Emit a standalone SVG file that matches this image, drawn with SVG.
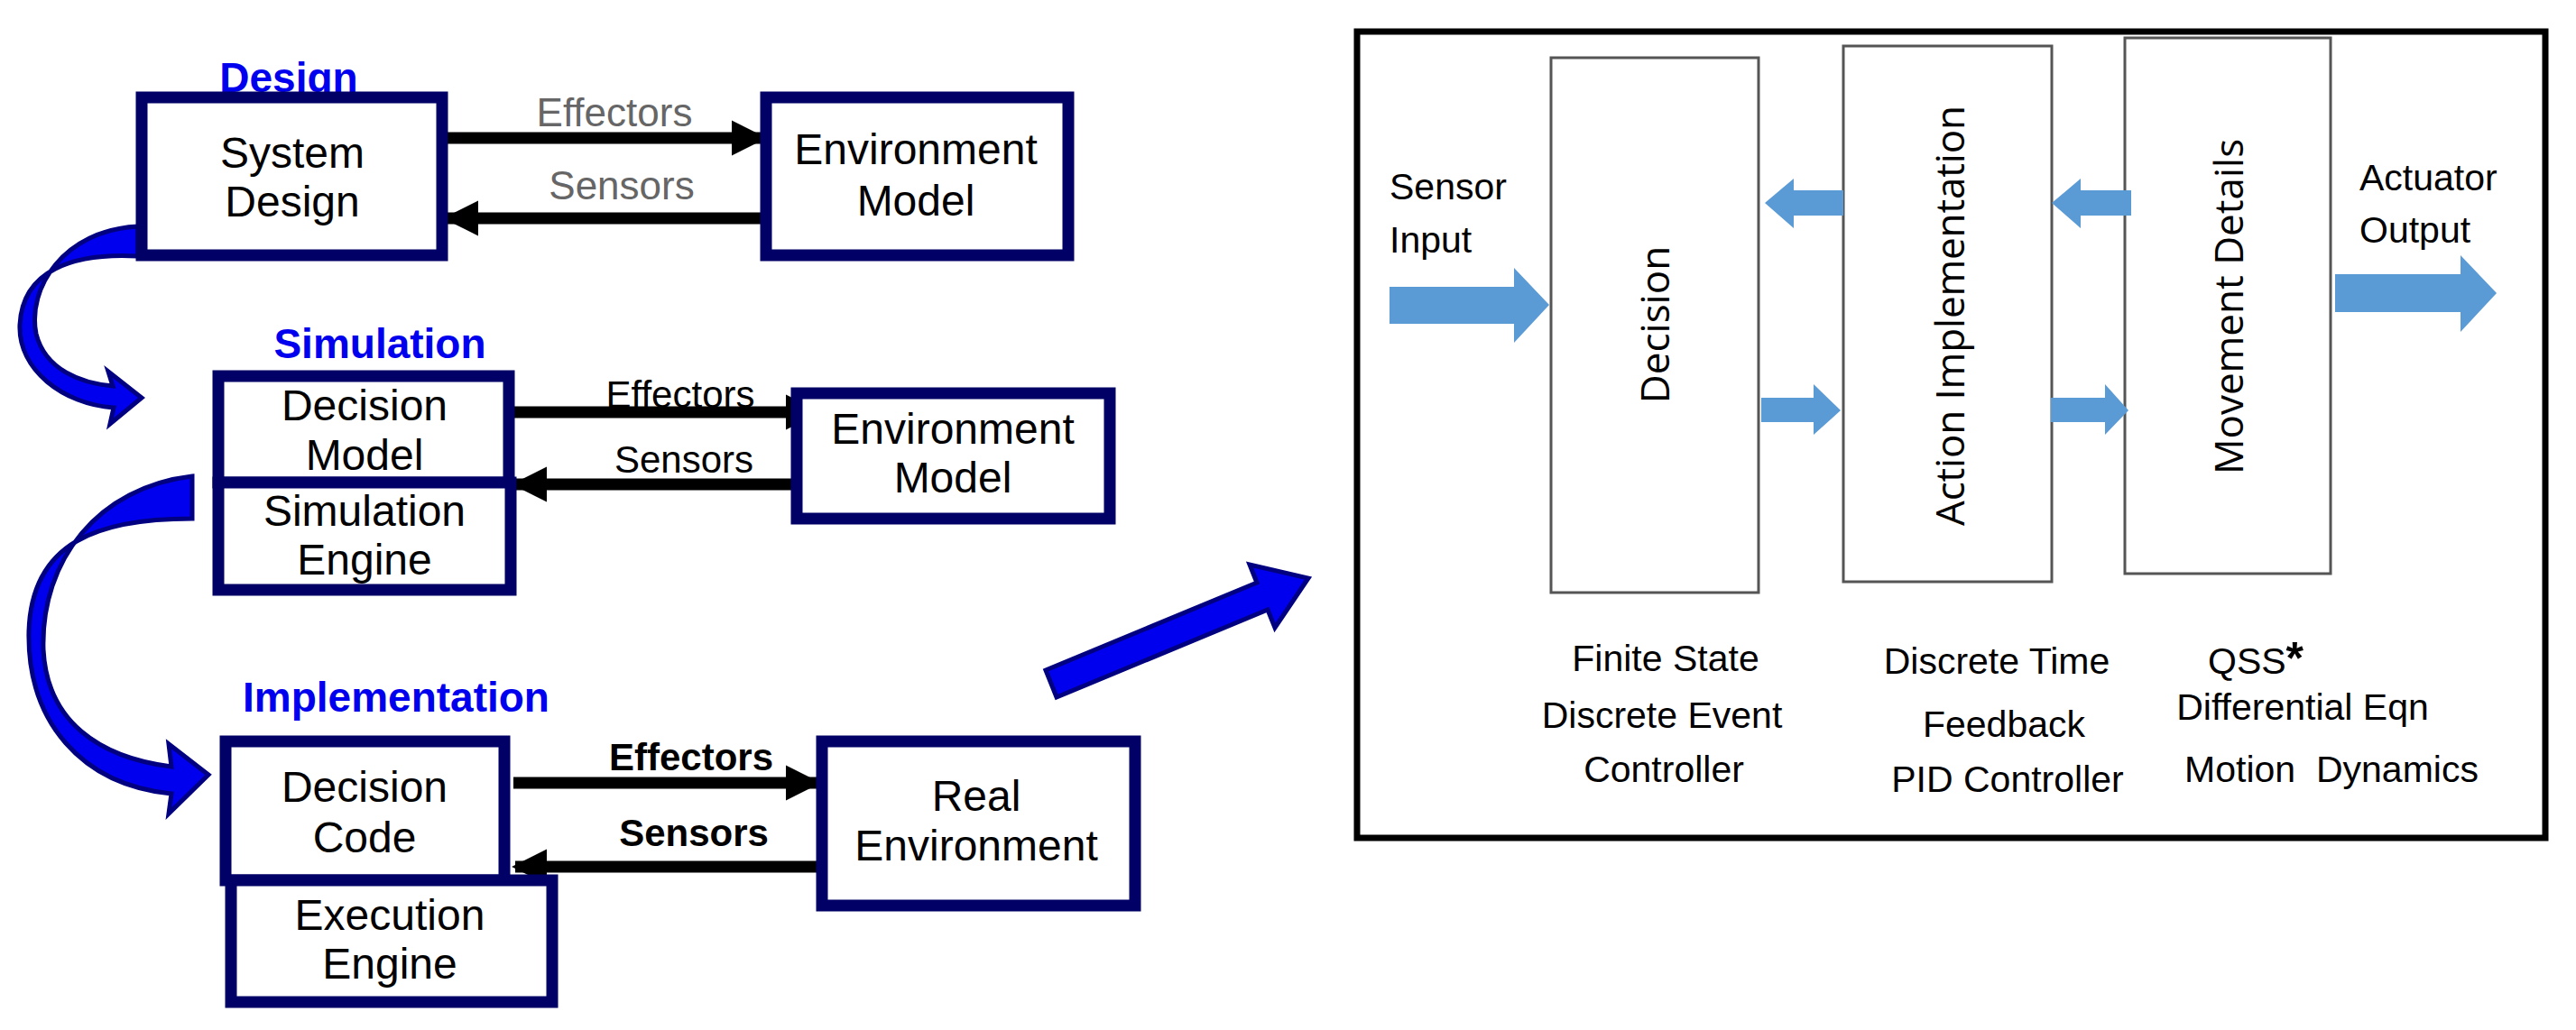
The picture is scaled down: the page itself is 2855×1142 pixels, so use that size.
<svg xmlns="http://www.w3.org/2000/svg" width="2855" height="1142" viewBox="0 0 2855 1142">
<style>
.nb{fill:#fff;stroke:#000066;stroke-width:13}
.t{font-family:"Liberation Sans",Arial,sans-serif;font-size:48px;fill:#000;text-anchor:middle}
.h{font-family:"Liberation Sans",Arial,sans-serif;font-size:46px;font-weight:bold;fill:#0000ee;text-anchor:middle}
.g{font-family:"Liberation Sans",Arial,sans-serif;font-size:44px;fill:#666;text-anchor:middle}
.k{font-family:"Liberation Sans",Arial,sans-serif;font-size:42px;fill:#000;text-anchor:middle}
.r{font-family:"Liberation Sans",Arial,sans-serif;font-size:41px;fill:#000;text-anchor:middle}
.s{font-family:"Liberation Sans",Arial,sans-serif;font-size:41px;fill:#000;text-anchor:start}
.v{font-family:"Open Sans","DejaVu Sans",sans-serif;font-size:44px;fill:#000;text-anchor:middle}
.ln{stroke:#000;stroke-width:13;fill:none}
.bx{fill:#fff;stroke:#555;stroke-width:3}
.ba{fill:#5B9BD5}
.cv{fill:#0000ee;stroke:#000080;stroke-width:5}
</style>
<defs>
<marker id="ah" viewBox="0 0 10 10" refX="9" refY="5" markerWidth="3" markerHeight="3.5" orient="auto" markerUnits="strokeWidth"><path d="M0,0L10,5L0,10z" fill="#000"/></marker>
</defs>
<rect width="2855" height="1142" fill="#fff"/>
<text class="h" x="320" y="102">Design</text>
<text class="h" x="421" y="397">Simulation</text>
<text class="h" x="439" y="789">Implementation</text>
<g id="curves">
<path class="cv" d="M153,251 C70,255 30,320 40,370 C50,410 90,425 125,428 L120,412 L157,441 L122,470 L126,452 C70,448 20,410 22,360 C25,300 80,280 153,284 Z"/>
<path class="cv" d="M213,528 C110,540 45,620 48,720 C52,800 110,840 190,850 L187,825 L231,859 L187,902 L190,880 C90,870 30,800 32,700 C35,600 110,575 213,575 Z"/>
<path class="cv" d="M1159,743 L1393,646 L1385,626 L1450,641 L1413,696 L1405,676 L1171,773 Z"/>
</g>
<g id="connectors">
<line class="ln" x1="495" y1="153" x2="846" y2="153" marker-end="url(#ah)"/>
<line class="ln" x1="849" y1="242" x2="495" y2="242" marker-end="url(#ah)"/>
<line class="ln" x1="566" y1="457" x2="906" y2="457" marker-end="url(#ah)"/>
<line class="ln" x1="908" y1="537" x2="571" y2="537" marker-end="url(#ah)"/>
<line class="ln" x1="569" y1="868" x2="906" y2="868" marker-end="url(#ah)"/>
<line class="ln" x1="911" y1="961" x2="571" y2="961" marker-end="url(#ah)"/>
<text class="g" x="681" y="140">Effectors</text>
<text class="g" x="689" y="221">Sensors</text>
<text class="k" x="754" y="452">Effectors</text>
<text class="k" x="758" y="524">Sensors</text>
<text class="k" x="766" y="854" font-weight="bold">Effectors</text>
<text class="k" x="769" y="938" font-weight="bold">Sensors</text>
</g>
<g id="system-design"><rect class="nb" x="157" y="108" width="333" height="175"/><text class="t" x="324" y="186">System</text><text class="t" x="324" y="240">Design</text></g>
<g id="env-model-1"><rect class="nb" x="849" y="108" width="335" height="175"/><text class="t" x="1015" y="182">Environment</text><text class="t" x="1015" y="239">Model</text></g>
<g id="decision-model"><rect class="nb" x="242" y="417" width="322" height="118"/><text class="t" x="404" y="466">Decision</text><text class="t" x="404" y="521">Model</text></g>
<g id="sim-engine"><rect class="nb" x="242" y="535" width="324" height="119"/><text class="t" x="404" y="583">Simulation</text><text class="t" x="404" y="637">Engine</text></g>
<g id="env-model-2"><rect class="nb" x="883" y="436" width="347" height="139"/><text class="t" x="1056" y="492">Environment</text><text class="t" x="1056" y="546">Model</text></g>
<g id="decision-code"><rect class="nb" x="250" y="822" width="309" height="154"/><text class="t" x="404" y="889">Decision</text><text class="t" x="404" y="945">Code</text></g>
<g id="exec-engine"><rect class="nb" x="256" y="976" width="356" height="135"/><text class="t" x="432" y="1031">Execution</text><text class="t" x="432" y="1085">Engine</text></g>
<g id="real-env"><rect class="nb" x="911" y="822" width="347" height="182"/><text class="t" x="1082" y="899">Real</text><text class="t" x="1082" y="954">Environment</text></g>

<g id="panel"><rect x="1504" y="35" width="1317" height="894" fill="#fff" stroke="#000" stroke-width="7"/></g>
<g id="decision"><rect class="bx" x="1719" y="64" width="230" height="593"/><text class="v" transform="translate(1850,360) rotate(-90)">Decision</text></g>
<g id="action"><rect class="bx" x="2043" y="51" width="231" height="594"/><text class="v" transform="translate(2177,350) rotate(-90)" textLength="466">Action Implementation</text></g>
<g id="movement"><rect class="bx" x="2355" y="42" width="228" height="594"/><text class="v" transform="translate(2486,340) rotate(-90)">Movement Details</text></g>
<g id="blue-arrows">
<path class="ba" d="M1540,318H1678V297L1717,338L1678,380V359H1540Z"/>
<path class="ba" d="M2043,211H1988V198L1956,225L1988,253V239H2043Z"/>
<path class="ba" d="M1952,441H2010V426L2040,455L2010,482V468H1952Z"/>
<path class="ba" d="M2362,211H2306V198L2274,225L2306,253V239H2362Z"/>
<path class="ba" d="M2273,441H2333V426L2359,455L2333,482V468H2273Z"/>
<path class="ba" d="M2588,304H2727V283L2767,325L2727,368V346H2588Z"/>
</g>
<g id="labels">
<text class="s" x="1540" y="221">Sensor</text>
<text class="s" x="1540" y="280">Input</text>
<text class="s" x="2615" y="211">Actuator</text>
<text class="s" x="2615" y="269">Output</text>
<text class="r" x="1846" y="744">Finite State</text>
<text class="r" x="1842" y="807">Discrete Event</text>
<text class="r" x="1844" y="867">Controller</text>
<text class="r" x="2213" y="747">Discrete Time</text>
<text class="r" x="2221" y="817">Feedback</text>
<text class="r" x="2225" y="878">PID Controller</text>
<text class="s" x="2447" y="747">QSS<tspan font-weight="bold" font-size="50">*</tspan></text>
<text class="r" x="2552" y="798">Differential Eqn</text>
<text class="r" x="2584" y="867" xml:space="preserve">Motion  Dynamics</text>
</g>
</svg>
